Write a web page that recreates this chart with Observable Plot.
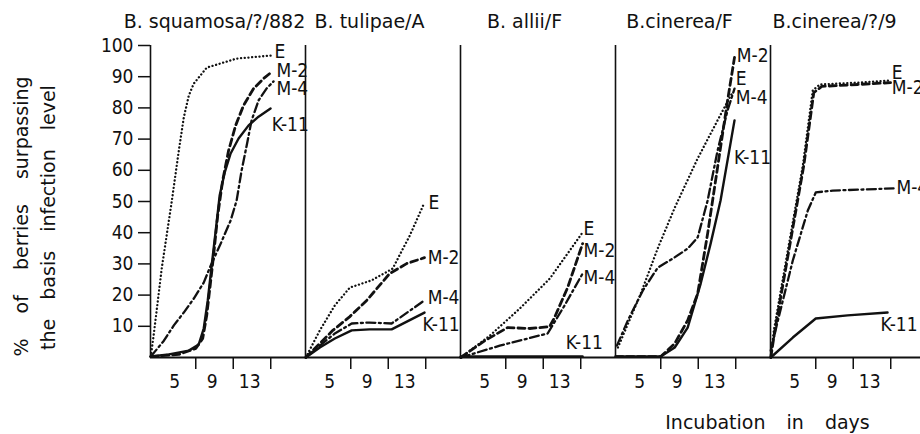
<!DOCTYPE html>
<html><head><meta charset="utf-8">
<script src="https://cdn.jsdelivr.net/npm/d3@7"></script>
<script src="https://cdn.jsdelivr.net/npm/@observablehq/plot@0.6"></script>
<style>
html,body{margin:0;padding:0;background:#fff;overflow:hidden;}
svg{max-width:none !important;}
</style></head><body><div id="chart"></div>
<script>
const panelNames = ["B. squamosa/?/882", "B. tulipae/A", "B. allii/F", "B.cinerea/F", "B.cinerea/?/9"];
const seriesNames = ["E", "M-2", "M-4", "K-11"];
const yTicks = [10, 20, 30, 40, 50, 60, 70, 80, 90, 100];
const xTicks = [5, 9, 13];
const yTitle1 = "% of berries surpassing";
const yTitle2 = "the basis infection level";
const xTitle = "Incubation in days";

// [day, % of berries]
const squamosa = {
  "E":   [[0.2,0.3],[0.53,7.7],[1.38,28.8],[2.45,50.3],[3.19,66.3],[3.72,76.9],[4.26,84],[4.79,87.8],[6.17,92.9],[9.36,95.8],[13.1,96.8]],
  "M-2": [[0.2,0.3],[3.2,1],[5.0,2.9],[5.74,6.1],[6.17,13.5],[6.6,24.7],[6.9,32.7],[7.34,45.5],[7.87,56.7],[8.5,66.3],[9.26,74.4],[10.1,80.8],[11.17,86.2],[12.23,89.4],[13.1,91.5]],
  "M-4": [[0.2,0.3],[1.6,5.4],[2.66,10.3],[3.72,14.4],[4.79,18.9],[5.85,24],[6.6,29.5],[7.66,36.5],[8.72,43.9],[9.36,50.3],[9.89,59.9],[10.43,67.9],[10.96,76],[11.7,82.4],[12.55,86.2],[13.3,88.5]],
  "K-11":[[0.2,0.3],[2.13,1],[4.26,2.2],[5.32,4.2],[5.85,9.3],[6.28,18.3],[6.7,29.5],[7.13,40.7],[7.55,51.9],[8.09,59.3],[8.72,65.4],[9.57,70.2],[10.64,74.4],[11.7,77.2],[12.98,79.8]]
};
const tulipae = {
  "E":   [[0.2,0],[1.7,8.7],[3.3,16.7],[4.9,22.4],[7.2,24.7],[9.47,28.5],[11.3,39.1],[12.87,49.7]],
  "M-2": [[0.2,0],[3.09,8.7],[4.9,13.1],[6.7,18.3],[9.15,26.9],[10.96,30.1],[12.87,32]],
  "M-4": [[0.2,0],[1.7,3.8],[3.3,7.7],[5.1,10.9],[7.0,11.2],[9.36,10.9],[12.87,18.3]],
  "K-11":[[0.2,0],[1.7,3.2],[3.3,6.1],[5.1,8.7],[7.0,9.0],[9.36,9.0],[12.87,14.4]]
};
const allii = {
  "E":   [[0.2,0],[3.3,7],[6.5,15.7],[9.7,25.3],[13.2,40.1]],
  "M-2": [[0.2,0],[2.77,5.4],[5.2,9.6],[7.55,9.3],[9.68,9.9],[10.2,12.8],[11.6,22.4],[13.2,36.5]],
  "M-4": [[0.2,0],[4.36,3.8],[9.47,7.7],[11.28,16.7],[13.2,26.9]],
  "K-11":[[0.2,0.3],[13.2,0.3]]
};
const cinereaF = {
  "E":   [[0.43,3.2],[2.87,20.5],[4.68,35],[6.49,48],[8.94,63.8],[11.06,76],[12.66,85]],
  "M-2": [[0.2,0.3],[5,0.3],[6.49,4.5],[7.87,11.9],[8.94,20.5],[10,39.7],[11.06,60.9],[12.13,82.4],[12.87,96.2]],
  "M-4": [[0.32,3.8],[1.49,11.9],[3.09,21.5],[4.68,28.8],[6.28,31.7],[7.87,34.9],[8.94,38.5],[10,50.3],[11.06,66.3],[12.13,79.2],[12.87,86.2]],
  "K-11":[[0.2,0.3],[5,0.3],[6.49,3.2],[7.87,9.6],[9.26,23.7],[10.32,36.5],[11.38,50.3],[12.87,76]]
};
const cinerea9 = {
  "E":   [[0.2,0],[0.53,8.7],[2.02,34.3],[3.62,61.5],[4.68,85.6],[5.43,87.5],[9.47,88.1],[12.98,88.8]],
  "M-2": [[0.2,0],[0.64,8.7],[2.13,34.3],[3.72,61.5],[4.79,84.9],[5.64,86.9],[9.47,87.5],[12.98,88.1]],
  "M-4": [[0.2,2.2],[0.96,11.9],[2.55,31.1],[4.15,47.1],[5,52.9],[6.81,53.5],[13.3,54.2]],
  "K-11":[[0.2,0],[2.55,6.4],[5,12.5],[8.4,13.5],[12.66,14.4]]
};
// label anchors [day, %] for E, M-2, M-4, K-11
const squamosaLabels = [[13.3,97.8],[13.5,92],[13.5,86.2],[13.0,74.4]];
const tulipaeLabels  = [[13.2,49.7],[13.1,32],[13.1,19.2],[12.55,10.3]];
const alliiLabels    = [[13.2,41.3],[13.2,34.3],[13.2,25.6],[11.3,4.8]];
const cinereaFLabels = [[12.9,89.4],[13.0,96.8],[12.9,83.3],[12.7,64.1]];
const cinerea9Labels = [[13.0,91.3],[13.0,86.5],[13.5,54.2],[11.8,10.3]];

const panelData = [squamosa, tulipae, allii, cinereaF, cinerea9];
const panelLabels = [squamosaLabels, tulipaeLabels, alliiLabels, cinereaFLabels, cinerea9Labels];

const rows = [];
const labelRows = [];
panelNames.forEach((p, i) => {
  seriesNames.forEach((s, j) => {
    panelData[i][s].forEach(([day, pct]) => rows.push({panel: p, series: s, day, pct}));
    const [lx, ly] = panelLabels[i][j];
    labelRows.push({panel: p, series: s, day: lx, pct: ly});
  });
});

const styles = {
  "E":   {strokeWidth: 2.3, strokeDasharray: "0.1,3.6", strokeLinecap: "round"},
  "M-2": {strokeWidth: 2.8, strokeDasharray: "7,4"},
  "M-4": {strokeWidth: 2.3, strokeDasharray: "9,3.5,2,3.5"},
  "K-11":{strokeWidth: 2.4}
};

const xMin = 0.17, xMax = 16.71;
const fontRegular = "'DejaVu Sans', sans-serif";
const fontNarrow = "'DejaVu Sans Condensed', 'Liberation Sans Narrow', 'DejaVu Sans', sans-serif";

const chart = Plot.plot({
  width: 926,
  height: 434,
  marginLeft: 149,
  marginRight: 0,
  marginTop: 45,
  marginBottom: 77,
  style: {fontFamily: fontNarrow, color: "#111", background: "#fff", overflow: "visible"},
  fx: {domain: panelNames, padding: 0, axis: null},
  x: {domain: [xMin, xMax], axis: null},
  y: {domain: [0, 100], axis: null},
  marks: [
    Plot.ruleY([0], {stroke: "#111", strokeWidth: 1.8}),
    Plot.ruleX([xMin], {y1: 0, y2: 100, stroke: "#111", strokeWidth: 1.6}),
    Plot.axisY({ticks: yTicks, tickSize: 12, tickPadding: 5, fontSize: 19, label: null, facetAnchor: "left", stroke: "#111", strokeWidth: 1.5}),
    Plot.axisX({ticks: xTicks, tickSize: 12, tickFormat: () => "", label: null, facetAnchor: "bottom", stroke: "#111", strokeWidth: 1.5}),
    Plot.text(xTicks, {x: d => d, frameAnchor: "bottom", lineAnchor: "middle", dy: 24, dx: -21, fontSize: 19, fill: "#111"}),
    ...seriesNames.map(s => Plot.line(rows.filter(r => r.series === s), {
      fx: "panel", x: "day", y: "pct", stroke: "#111", ...styles[s]
    })),
    Plot.text(labelRows, {fx: "panel", x: "day", y: "pct", text: "series", textAnchor: "start", lineAnchor: "middle", fontSize: 19, fill: "#111", dx: 1}),
    Plot.text(panelNames, {fx: d => d, x: () => 7.0, text: d => d, frameAnchor: "top", lineAnchor: "middle", dy: -24, fontSize: 19, fontFamily: fontRegular, fill: "#111"}),
    Plot.text([yTitle1], {fx: () => panelNames[0], text: d => d, frameAnchor: "left", textAnchor: "middle", lineAnchor: "middle", rotate: -90, dx: -129, dy: 15, fontSize: 19, fontFamily: fontRegular, fill: "#111"}),
    Plot.text([yTitle2], {fx: () => panelNames[0], text: d => d, frameAnchor: "left", textAnchor: "middle", lineAnchor: "middle", rotate: -90, dx: -102, dy: 16, fontSize: 19, fontFamily: fontRegular, fill: "#111"}),
    Plot.text([xTitle], {fx: () => panelNames[3], text: d => d, frameAnchor: "bottom-right", textAnchor: "middle", lineAnchor: "middle", dx: -3, dy: 65, fontSize: 19, fontFamily: fontRegular, fill: "#111"})
  ]
});
document.getElementById("chart").appendChild(chart);
const spacing = {[yTitle1]: "19px", [yTitle2]: "13px", [xTitle]: "15px"};
d3.select(chart).selectAll("text").each(function() {
  const t = this.textContent;
  if (spacing[t]) d3.select(this).style("word-spacing", spacing[t]);
});
</script>
</body></html>
